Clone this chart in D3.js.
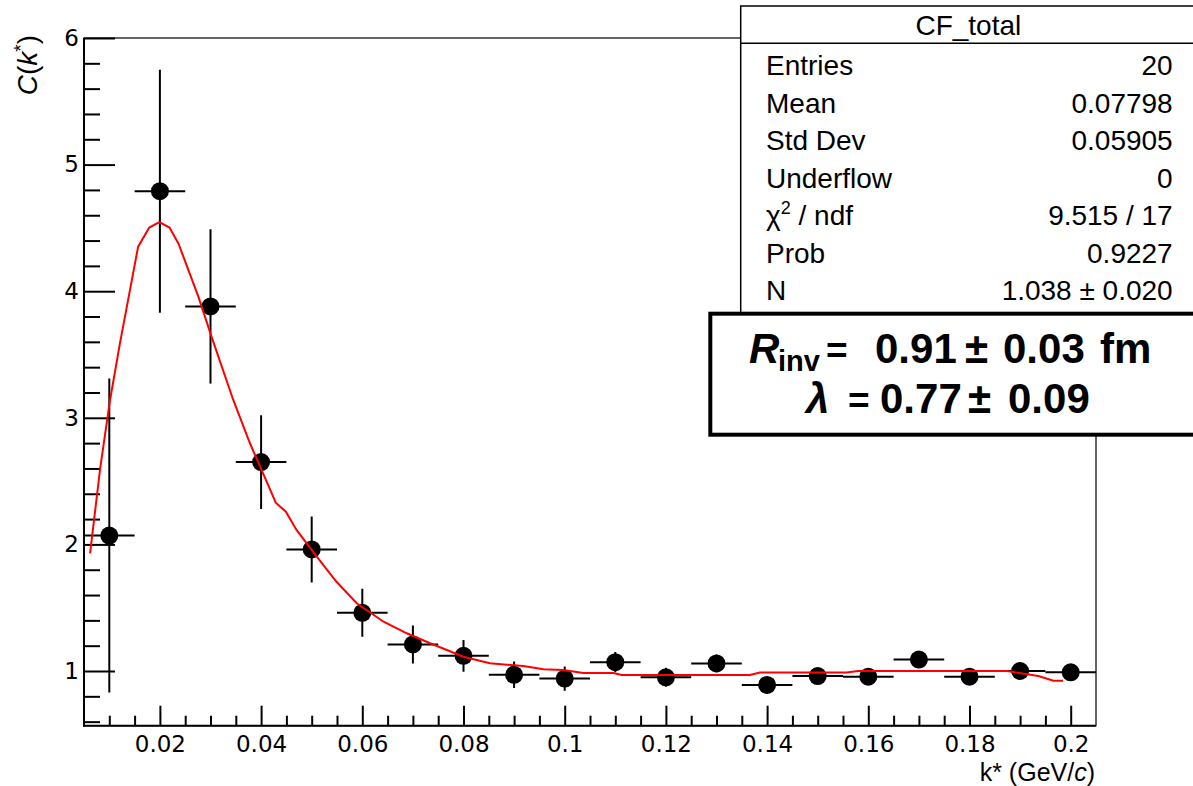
<!DOCTYPE html>
<html>
<head>
<meta charset="utf-8">
<script src="https://cdn.jsdelivr.net/npm/d3@7"></script>
<style>
  body { margin: 0; background: #fff; }
  svg { display: block; }
  text { font-family: "Liberation Sans", Arial, Helvetica, sans-serif; fill: #000; }
</style>
</head>
<body>
<svg id="chart" width="1193" height="786"></svg>
<script>
// ---- data: correlation function C(k*) per k* bin ----
const kStar   = [0.01, 0.02, 0.03, 0.04, 0.05, 0.06, 0.07, 0.08, 0.09, 0.10,
                 0.11, 0.12, 0.13, 0.14, 0.15, 0.16, 0.17, 0.18, 0.19, 0.20];
const cValues = [2.07, 4.79, 3.88, 2.65, 1.96, 1.46, 1.21, 1.12, 0.97, 0.94,
                 1.07, 0.95, 1.06, 0.89, 0.96, 0.955, 1.09, 0.955, 1.00, 0.99];
const cErrors = [1.24, 0.96, 0.61, 0.37, 0.26, 0.19, 0.15, 0.125, 0.105, 0.095,
                 0.08, 0.075, 0.07, 0.065, 0.065, 0.065, 0.065, 0.06, 0.06, 0.06];
const binHalfWidth = 0.005;

// ---- fitted function, sampled ----
const fitK = [0.0062, 0.0082, 0.0101, 0.0121, 0.0157, 0.0179, 0.0199, 0.0219, 0.0237,
              0.0276, 0.0302, 0.0345, 0.0378, 0.0429, 0.0449, 0.0470, 0.0510, 0.0549,
              0.0589, 0.0642, 0.0688, 0.0734, 0.0800, 0.0852, 0.0918, 0.0958, 0.0997,
              0.1037, 0.1096, 0.1113, 0.1366, 0.1386, 0.1557, 0.1580, 0.1874, 0.1936,
              0.1966, 0.1985];
const fitC = [1.930, 2.601, 3.129, 3.588, 4.352, 4.503, 4.545, 4.503, 4.373,
              3.957, 3.641, 3.141, 2.799, 2.329, 2.258, 2.114, 1.903, 1.705,
              1.535, 1.389, 1.298, 1.219, 1.113, 1.061, 1.039, 1.013, 1.008,
              0.984, 0.984, 0.968, 0.968, 0.988, 0.988, 1.000, 1.000, 0.960,
              0.923, 0.923];

// ---- axis ticks ----
const xMajorTicks  = [0.02, 0.04, 0.06, 0.08, 0.10, 0.12, 0.14, 0.16, 0.18, 0.20];
const xTickLabels  = ["0.02", "0.04", "0.06", "0.08", "0.1", "0.12", "0.14", "0.16", "0.18", "0.2"];
const yMajorTicks  = [1, 2, 3, 4, 5, 6];
const yTickLabels  = ["1", "2", "3", "4", "5", "6"];

// ---- statistics box ----
const statsTitle  = "CF_total";
const statsLabels = ["Entries", "Mean", "Std Dev", "Underflow", "χ2 / ndf", "Prob", "N"];
const statsValues = ["20", "0.07798", "0.05905", "0", "9.515 / 17", "0.9227", "1.038 ± 0.020"];

// ---- fit result ----
const rInv   = { value: "0.91", error: "0.03", unit: "fm" };
const lambda = { value: "0.77", error: "0.09" };

// ---- layout ----
const frame = { left: 84, right: 1096, top: 38, bottom: 725.7 };
const tickFont = "DejaVu Sans, Verdana, sans-serif";
const svg = d3.select("#chart");

const x = d3.scaleLinear().domain([0.005, 0.205]).range([frame.left, frame.right]);
const y = d3.scaleLinear().domain([0.568, 6]).range([frame.bottom, frame.top]);

// frame
svg.append("rect")
  .attr("x", frame.left).attr("y", frame.top)
  .attr("width", frame.right - frame.left).attr("height", frame.bottom - frame.top)
  .attr("fill", "none").attr("stroke", "#000").attr("stroke-width", 1.2);

// y axis: major + minor ticks pointing inward
const yMinor = d3.range(0.6, 6.0001, 0.2).filter(v => Math.abs(v - Math.round(v)) > 1e-6);
svg.append("g")
  .attr("transform", `translate(${frame.left},0)`)
  .call(d3.axisLeft(y).tickValues(yMinor).tickSize(-16).tickFormat(""))
  .call(g => g.select(".domain").remove())
  .call(g => g.selectAll("line").attr("stroke-width", 2));
const yAxisG = svg.append("g")
  .attr("transform", `translate(${frame.left},0)`)
  .call(d3.axisLeft(y).tickValues(yMajorTicks).tickSize(-31).tickPadding(5)
        .tickFormat((d, i) => yTickLabels[i]))
  .call(g => g.select(".domain").remove())
  .call(g => g.selectAll("line").attr("stroke-width", 2));
yAxisG.attr("font-family", null).attr("font-size", null);
yAxisG.selectAll("text").style("font-family", tickFont).style("font-size", "23px")
  .attr("fill", "#000");

// x axis: major + minor ticks pointing inward
const xMinor = d3.range(0.01, 0.2001, 0.005)
  .filter(v => Math.abs(v / 0.02 - Math.round(v / 0.02)) > 1e-6);
svg.append("g")
  .attr("transform", `translate(0,${frame.bottom})`)
  .call(d3.axisBottom(x).tickValues(xMinor).tickSize(-10).tickFormat(""))
  .call(g => g.select(".domain").remove())
  .call(g => g.selectAll("line").attr("stroke-width", 2));
const xAxisG = svg.append("g")
  .attr("transform", `translate(0,${frame.bottom})`)
  .call(d3.axisBottom(x).tickValues(xMajorTicks).tickSize(-20).tickPadding(10)
        .tickFormat((d, i) => xTickLabels[i]))
  .call(g => g.select(".domain").remove())
  .call(g => g.selectAll("line").attr("stroke-width", 2));
xAxisG.attr("font-family", null).attr("font-size", null);
xAxisG.selectAll("text").style("font-family", tickFont).style("font-size", "23px")
  .attr("fill", "#000");

// axis lines
svg.append("line").attr("x1", frame.left).attr("x2", frame.left)
  .attr("y1", frame.top).attr("y2", frame.bottom + 1)
  .attr("stroke", "#000").attr("stroke-width", 2);
svg.append("line").attr("x1", frame.left - 1).attr("x2", frame.right)
  .attr("y1", frame.bottom).attr("y2", frame.bottom)
  .attr("stroke", "#000").attr("stroke-width", 2);

// axis titles
const yTitle = svg.append("text")
  .attr("transform", `translate(37,35) rotate(-90)`)
  .attr("text-anchor", "end").style("font-size", "28px");
yTitle.append("tspan").attr("font-style", "italic").text("C");
yTitle.append("tspan").text("(");
yTitle.append("tspan").attr("font-style", "italic").text("k");
yTitle.append("tspan").style("font-size", "19px").attr("dy", -10).text("*");
yTitle.append("tspan").attr("dy", 10).text(")");

const xTitle = svg.append("text")
  .attr("x", 1095).attr("y", 781).attr("text-anchor", "end").style("font-size", "25px");
xTitle.append("tspan").text("k* (GeV/");
xTitle.append("tspan").attr("font-style", "italic").text("c");
xTitle.append("tspan").text(")");

// plotting area clip
svg.append("clipPath").attr("id", "plotClip")
  .append("rect").attr("x", frame.left).attr("y", frame.top)
  .attr("width", frame.right - frame.left).attr("height", frame.bottom - frame.top);

const points = kStar.map((k, i) => ({ k, c: cValues[i], e: cErrors[i] }));
const dataG = svg.append("g").attr("clip-path", "url(#plotClip)");

// error bars
dataG.selectAll("line.ex").data(points).join("line").attr("class", "ex")
  .attr("x1", d => x(d.k - binHalfWidth)).attr("x2", d => x(d.k + binHalfWidth))
  .attr("y1", d => y(d.c)).attr("y2", d => y(d.c))
  .attr("stroke", "#000").attr("stroke-width", 2);
dataG.selectAll("line.ey").data(points).join("line").attr("class", "ey")
  .attr("x1", d => x(d.k)).attr("x2", d => x(d.k))
  .attr("y1", d => y(d.c - d.e)).attr("y2", d => y(d.c + d.e))
  .attr("stroke", "#000").attr("stroke-width", 2);

// markers
dataG.selectAll("circle").data(points).join("circle")
  .attr("cx", d => x(d.k)).attr("cy", d => y(d.c)).attr("r", 9).attr("fill", "#000");

// fit curve
const fitPts = fitK.map((k, i) => [k, fitC[i]]);
dataG.append("path")
  .attr("d", d3.line().x(d => x(d[0])).y(d => y(d[1]))(fitPts))
  .attr("fill", "none").attr("stroke", "#ff0000").attr("stroke-width", 2);

// statistics box
const sb = { left: 740.7, top: 6, right: 1196, bottom: 320, sep: 43.3 };
const statsG = svg.append("g");
statsG.append("rect")
  .attr("x", sb.left).attr("y", sb.top).attr("width", sb.right - sb.left).attr("height", sb.bottom - sb.top)
  .attr("fill", "#fff").attr("stroke", "#000").attr("stroke-width", 1.5);
statsG.append("line").attr("x1", sb.left).attr("x2", sb.right).attr("y1", sb.sep).attr("y2", sb.sep)
  .attr("stroke", "#000").attr("stroke-width", 1.5);
statsG.append("text").attr("x", (sb.left + sb.right) / 2).attr("y", 35)
  .attr("text-anchor", "middle").style("font-size", "28px").text(statsTitle);
const rowY = d3.scaleLinear().domain([0, 6]).range([75, 300]);
statsLabels.forEach((lab, i) => {
  const t = statsG.append("text").attr("x", 766).attr("y", rowY(i)).style("font-size", "28px");
  if (lab.startsWith("χ2")) {
    t.append("tspan").text("χ");
    t.append("tspan").style("font-size", "18px").attr("dy", -11).text("2");
    t.append("tspan").attr("dy", 11).text(lab.slice(2));
  } else {
    t.text(lab);
  }
  statsG.append("text").attr("x", 1172.7).attr("y", rowY(i)).attr("text-anchor", "end")
    .style("font-size", "28px").text(statsValues[i]);
});

// fit result box
const fb = { left: 710.3, top: 313.7, right: 1200, bottom: 434.7 };
const fitG = svg.append("g");
fitG.append("rect")
  .attr("x", fb.left).attr("y", fb.top).attr("width", fb.right - fb.left).attr("height", fb.bottom - fb.top)
  .attr("fill", "#fff").attr("stroke", "#000").attr("stroke-width", 4);

const line1 = fitG.append("text").attr("y", 363.3).style("font-size", "42px").attr("font-weight", "bold");
line1.append("tspan").attr("x", 749).attr("font-style", "italic").text("R");
line1.append("tspan").attr("x", 778).attr("dy", 8).style("font-size", "29px").text("inv");
line1.append("tspan").attr("x", 826).attr("dy", -8).style("font-size", "37px").text("=");
line1.append("tspan").attr("x", 875).text(rInv.value);
line1.append("tspan").attr("x", 965).text("±");
line1.append("tspan").attr("x", 1003).text(rInv.error);
line1.append("tspan").attr("x", 1100).text(rInv.unit);

const line2 = fitG.append("text").attr("y", 413.3).style("font-size", "42px").attr("font-weight", "bold");
line2.append("tspan").attr("x", 806).attr("font-style", "italic").text("λ");
line2.append("tspan").attr("x", 848).style("font-size", "37px").text("=");
line2.append("tspan").attr("x", 880).text(lambda.value);
line2.append("tspan").attr("x", 968).text("±");
line2.append("tspan").attr("x", 1008).text(lambda.error);
</script>
</body>
</html>
